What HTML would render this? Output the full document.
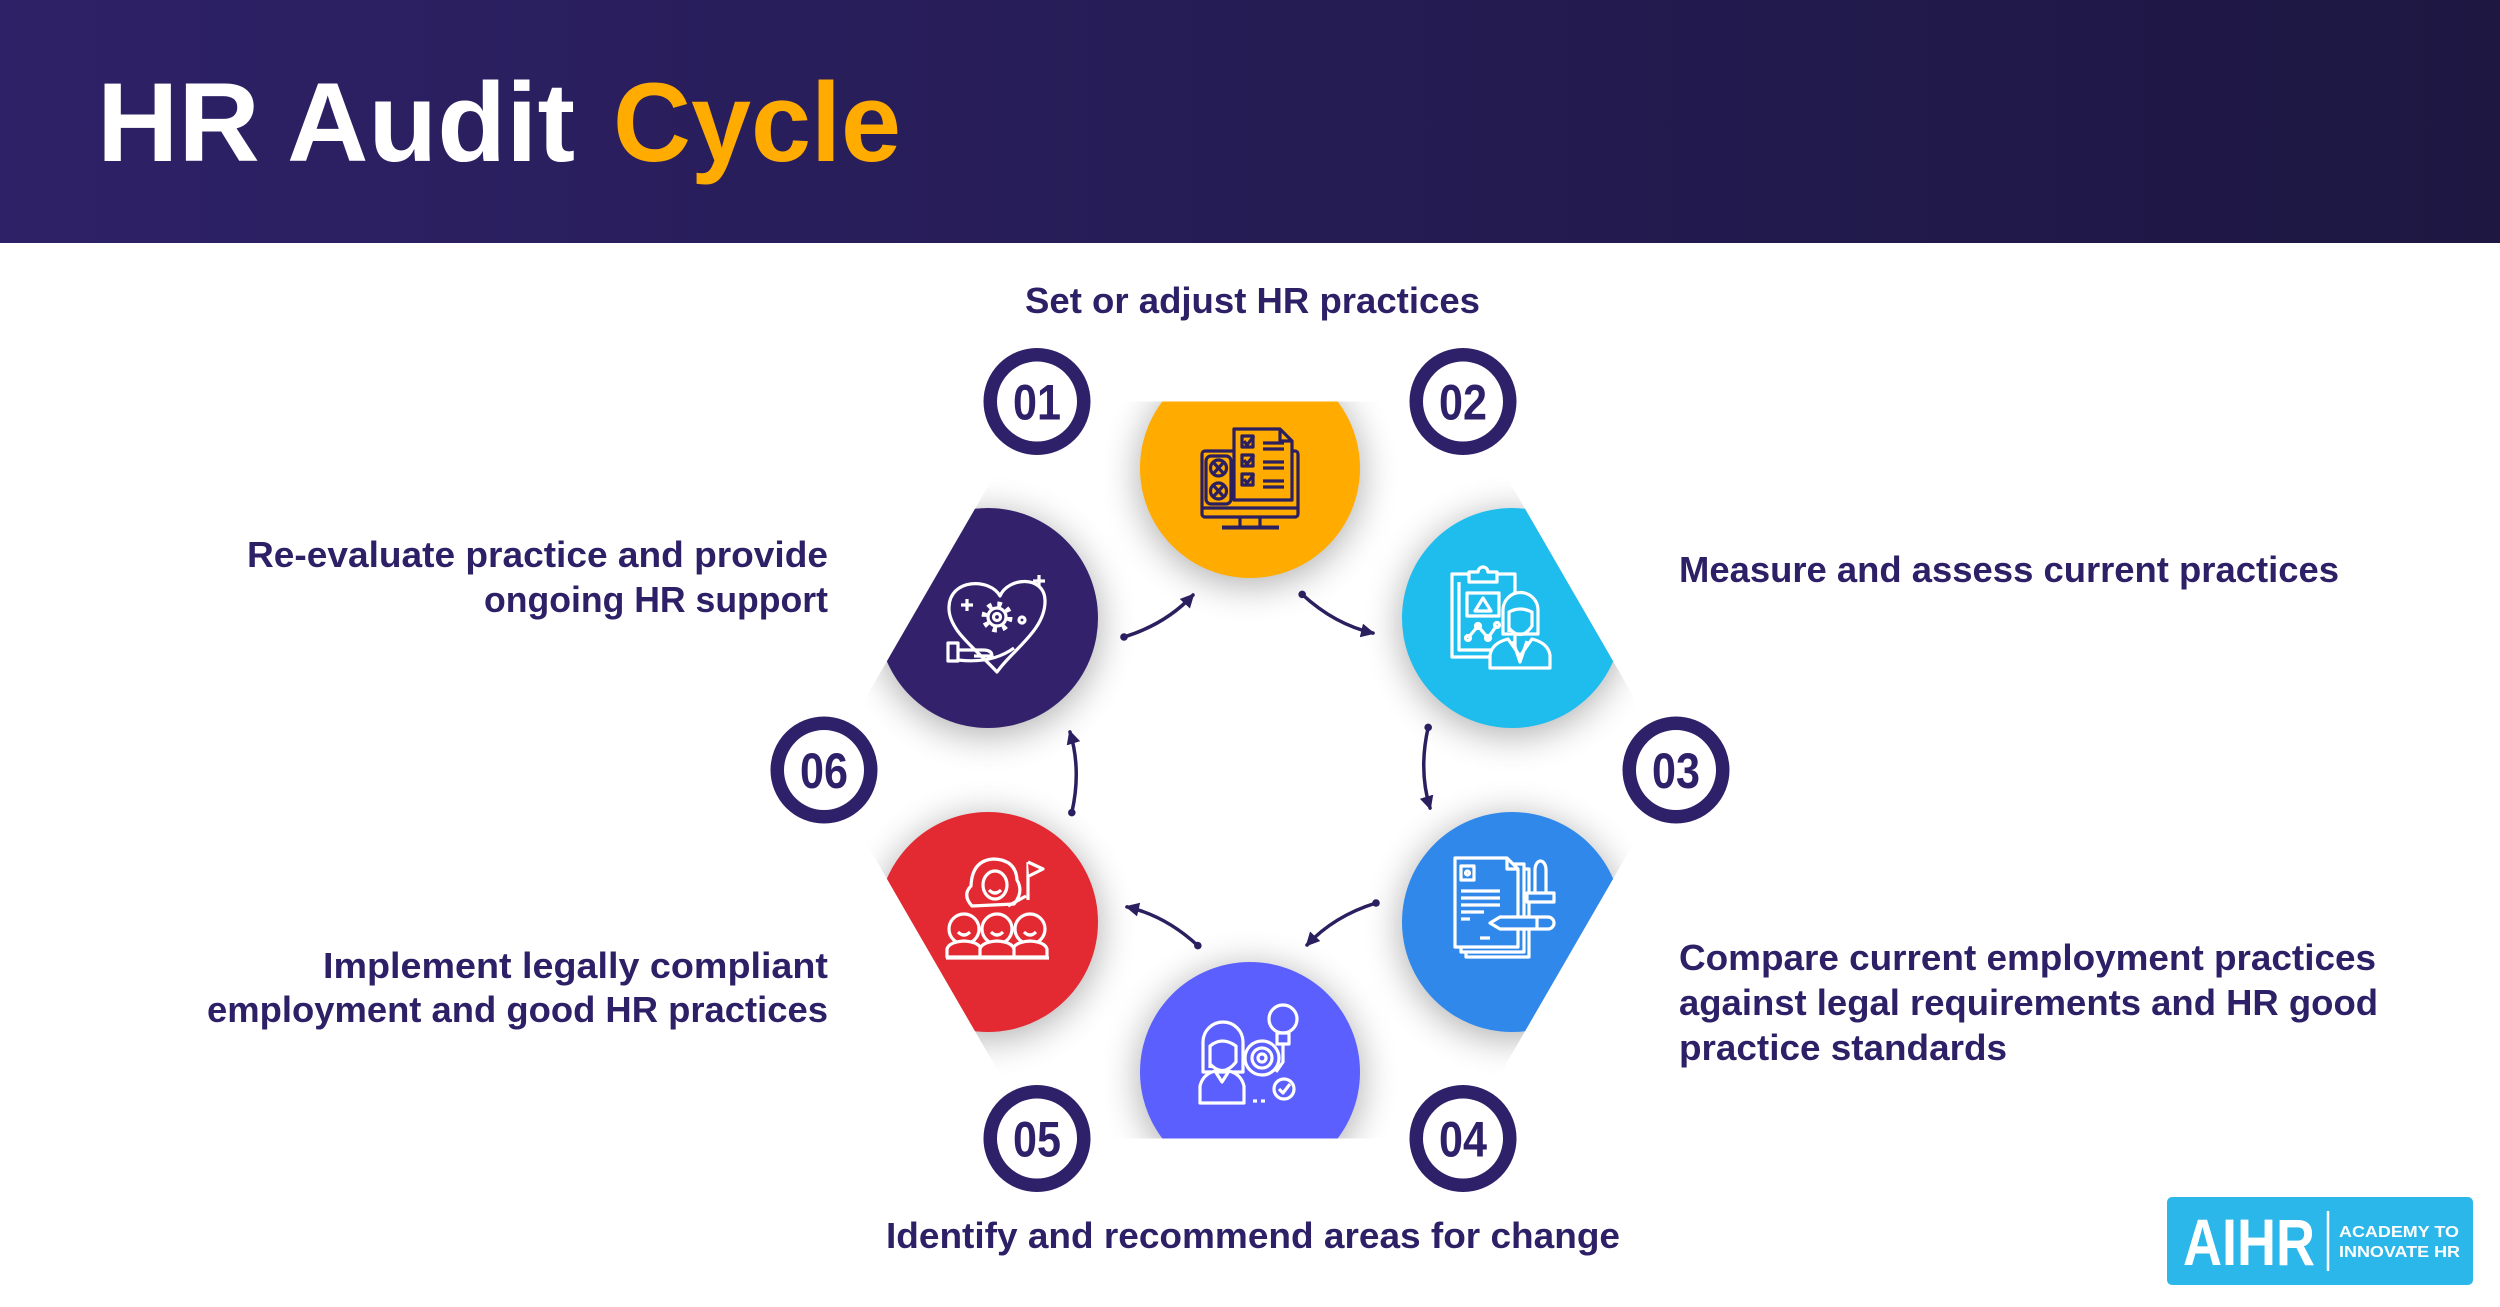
<!DOCTYPE html>
<html><head><meta charset="utf-8"><style>
html,body{margin:0;padding:0;background:#fff;}
svg{display:block;}
text{font-family:"Liberation Sans",Arial,sans-serif;font-weight:bold;}
</style></head><body>
<svg width="2500" height="1307" viewBox="0 0 2500 1307" xmlns="http://www.w3.org/2000/svg">
<defs>
<linearGradient id="hg" x1="0" y1="0" x2="1" y2="0"><stop offset="0" stop-color="#2e2167"/><stop offset="1" stop-color="#1d1742"/></linearGradient>
<clipPath id="hex"><polygon points="1037,401.5 1463,401.5 1676,770 1463,1138.5 1037,1138.5 824,770"/></clipPath>
<filter id="sh" x="-50%" y="-50%" width="200%" height="200%"><feGaussianBlur stdDeviation="18"/></filter>
<marker id="ah" markerUnits="userSpaceOnUse" markerWidth="16" markerHeight="16" refX="12" refY="7" orient="auto"><path d="M0,0 L14,7 L0,14 Z" fill="#2b1f5f"/></marker>
</defs>
<rect width="2500" height="243" fill="url(#hg)"/>
<text x="97" y="161" font-size="112" fill="#fff" textLength="478" lengthAdjust="spacingAndGlyphs">HR Audit</text>
<text x="613" y="161" font-size="112" fill="#ffab00" textLength="288" lengthAdjust="spacingAndGlyphs">Cycle</text>

<g clip-path="url(#hex)">
 <g filter="url(#sh)" fill="#000" opacity="0.3">
  <circle cx="1250" cy="474" r="112"/>
  <circle cx="1512" cy="624" r="112"/>
  <circle cx="1512" cy="928" r="112"/>
  <circle cx="1250" cy="1078" r="112"/>
  <circle cx="988" cy="928" r="112"/>
  <circle cx="988" cy="624" r="112"/>
 </g>
 <circle cx="1250" cy="468" r="110" fill="#ffab00"/>
 <circle cx="1512" cy="618" r="110" fill="#1fbcee"/>
 <circle cx="1512" cy="922" r="110" fill="#3088ea"/>
 <circle cx="1250" cy="1072" r="110" fill="#5b5ffd"/>
 <circle cx="988" cy="922" r="110" fill="#e32a33"/>
 <circle cx="988" cy="618" r="110" fill="#33226b"/>
</g>

<!-- Icon 1 orange -->
<g fill="none" stroke="#2b1f5f" stroke-width="3.2" stroke-linejoin="round">
 <rect x="1202" y="451" width="96" height="66" rx="3"/>
 <line x1="1202" y1="508" x2="1298" y2="508"/>
 <path d="M1240 517 V526 M1260 517 V526"/>
 <line x1="1222" y1="527.5" x2="1279" y2="527.5" stroke-width="4"/>
 <rect x="1206" y="456" width="25" height="48" rx="5"/>
 <circle cx="1218.5" cy="468" r="8"/><circle cx="1218.5" cy="491" r="8"/>
 <path d="M1213 462 L1224 474 M1224 462 L1213 474 M1213 485 L1224 497 M1224 485 L1213 497"/>
 <path d="M1234 500 V429 H1280 L1292 441 V500 Z" fill="#ffab00"/>
 <path d="M1280 429 V441 H1292"/>
 <rect x="1242" y="436" width="11" height="11"/><path d="M1244 441 l3 4 l7 -9"/>
 <path d="M1263 443 H1284 M1263 449 H1284"/>
 <rect x="1242" y="455" width="11" height="11"/><path d="M1244 460 l3 4 l7 -9"/>
 <path d="M1263 462 H1284 M1263 468 H1284"/>
 <rect x="1242" y="474" width="11" height="11"/><path d="M1244 479 l3 4 l7 -9"/>
 <path d="M1263 481 H1284 M1263 487 H1284"/>
</g>

<!-- Icon 2 light blue -->
<g fill="none" stroke="#fff" stroke-width="3.2" stroke-linejoin="round">
 <rect x="1452" y="574" width="63" height="83"/>
 <path d="M1459 582 V650 H1500"/>
 <path d="M1469 582 V572 H1478 A5 5 0 0 1 1488 572 H1497 V582 Z" fill="#1fbcee"/>
 <rect x="1467" y="593" width="32" height="23"/>
 <path d="M1483 598 L1475 611 L1491 611 Z"/>
 <polyline points="1468,638 1478,626 1488,638 1497,625"/>
 <circle cx="1468" cy="638" r="2.5"/><circle cx="1478" cy="626" r="2.5"/><circle cx="1488" cy="638" r="2.5"/><circle cx="1497" cy="625" r="2.5"/>
 <path d="M1490 668 V655 Q1492 643 1508 639 L1520 656 L1532 639 Q1548 643 1550 655 V668 Z" fill="#1fbcee"/>
 <path d="M1503 634 V610 A17.5 17.5 0 0 1 1538 610 V634 Z" fill="#1fbcee"/>
 <path d="M1509 632 V612 Q1520 606 1532 612 V626 Q1521 642 1509 628"/>
 <path d="M1513 641 L1520 662 L1527 641"/>
</g>

<!-- Icon 3 blue -->
<g fill="none" stroke="#fff" stroke-width="3.2" stroke-linejoin="round">
 <rect x="1466" y="869" width="63" height="88" fill="#3088ea"/>
 <rect x="1461" y="864" width="63" height="88" fill="#3088ea"/>
 <path d="M1455 858 H1507 L1518 869 V947 H1455 Z" fill="#3088ea"/>
 <path d="M1507 858 V869 H1518"/>
 <rect x="1461" y="866" width="13" height="14"/><circle cx="1467.5" cy="873" r="2"/>
 <path d="M1461 891 H1500 M1461 898 H1500 M1461 905 H1500 M1461 912 H1484 M1461 919 H1470 M1480 938 H1490"/>
 <path d="M1535 893 V870 A5.5 9 0 0 1 1546 870 V893" fill="#3088ea"/>
 <rect x="1527" y="893" width="27" height="9" fill="#3088ea"/>
 <path d="M1500 917 H1548 A6 6 0 0 1 1548 929 H1500 L1490 923 Z" fill="#3088ea"/>
 <path d="M1537 917 V929"/>
</g>

<!-- Icon 4 violet -->
<g fill="none" stroke="#fff" stroke-width="3.2" stroke-linejoin="round">
 <circle cx="1262" cy="1058" r="17"/><circle cx="1262" cy="1058" r="10"/><circle cx="1262" cy="1058" r="4"/>
 <circle cx="1283" cy="1019" r="14"/>
 <rect x="1277" y="1033" width="12" height="11"/>
 <path d="M1283 1044 V1062 L1276 1072"/>
 <circle cx="1284" cy="1089" r="10"/><path d="M1279 1089 l4 4 l7 -9"/>
 <path d="M1253 1101 h4 M1261 1101 h4"/>
 <path d="M1203 1072 V1042 A20 20 0 0 1 1243 1042 V1072 Z" fill="#5b5ffd"/>
 <path d="M1210 1068 V1046 Q1222 1036 1236 1046 V1062 Q1223 1078 1210 1064"/>
 <path d="M1200 1103 V1086 Q1203 1074 1215 1071 L1222 1082 L1229 1071 Q1241 1074 1244 1086 V1103 Z" fill="#5b5ffd"/>
</g>

<!-- Icon 5 red -->
<g fill="none" stroke="#fff" stroke-width="3.2" stroke-linejoin="round">
 <path d="M972 906 Q962 895 971 886 Q972 860 994 859 Q1016 860 1017 880 Q1024 892 1014 904 Z" fill="#e32a33"/>
 <ellipse cx="995" cy="885" rx="12" ry="14"/>
 <path d="M989 890 Q995 896 1001 890"/>
 <path d="M1028 862 V900"/><path d="M1028 862 L1043 869 L1029 876" fill="#e32a33"/>
 <path d="M1008 906 L1026 896"/>
 <g fill="#e32a33">
  <circle cx="964" cy="929" r="15"/>
  <circle cx="1030" cy="929" r="15"/>
  <circle cx="997" cy="929" r="15"/>
  <path d="M947 957 V949 Q949 942 964 941 Q979 942 981 949 V957 Z"/>
  <path d="M1013 957 V949 Q1015 942 1030 941 Q1045 942 1047 949 V957 Z"/>
  <path d="M980 957 V949 Q982 942 997 941 Q1012 942 1014 949 V957 Z"/>
 </g>
 <path d="M958 932 Q964 938 970 932 M991 932 Q997 938 1003 932 M1024 932 Q1030 938 1036 932"/>
 <path d="M946 958 H1049"/>
</g>

<!-- Icon 6 purple -->
<g fill="none" stroke="#fff" stroke-width="3.2" stroke-linejoin="round">
 <path d="M1000 596 C990 578 950 578 949 607 C948 630 975 648 997 672 C1012 650 1046 630 1045 600 C1044 575 1008 577 1000 596 Z"/>
 <circle cx="997" cy="617" r="13" stroke-width="5" stroke-dasharray="4.5 5.7"/>
 <circle cx="997" cy="617" r="9"/>
 <circle cx="997" cy="617" r="3.5"/>
 <path d="M967 599 V611 M961 605 H973"/>
 <path d="M1039 575 V587 M1033 581 H1045"/>
 <circle cx="1022" cy="620" r="3"/>
 <path d="M958 650 H983 Q992 650 992 656 H974 M958 660 Q992 664 1014 648" fill="none"/>
 <rect x="948" y="643" width="10" height="18" fill="#33226b"/>
</g>

<!-- arrows -->
<g transform="translate(1250,770)" fill="none" stroke="#2b1f5f" stroke-width="3.5" stroke-linecap="round">
 <g><path d="M-126,-133 Q-84,-146 -57,-175" marker-end="url(#ah)"/><circle cx="-126" cy="-133" r="3.8" fill="#2b1f5f" stroke="none"/></g>
 <g transform="rotate(60)"><path d="M-126,-133 Q-84,-146 -57,-175" marker-end="url(#ah)"/><circle cx="-126" cy="-133" r="3.8" fill="#2b1f5f" stroke="none"/></g>
 <g transform="rotate(120)"><path d="M-126,-133 Q-84,-146 -57,-175" marker-end="url(#ah)"/><circle cx="-126" cy="-133" r="3.8" fill="#2b1f5f" stroke="none"/></g>
 <g transform="rotate(180)"><path d="M-126,-133 Q-84,-146 -57,-175" marker-end="url(#ah)"/><circle cx="-126" cy="-133" r="3.8" fill="#2b1f5f" stroke="none"/></g>
 <g transform="rotate(240)"><path d="M-126,-133 Q-84,-146 -57,-175" marker-end="url(#ah)"/><circle cx="-126" cy="-133" r="3.8" fill="#2b1f5f" stroke="none"/></g>
 <g transform="rotate(300)"><path d="M-126,-133 Q-84,-146 -57,-175" marker-end="url(#ah)"/><circle cx="-126" cy="-133" r="3.8" fill="#2b1f5f" stroke="none"/></g>
</g>

<!-- number circles -->
<g fill="#fff" stroke="#2f2169" stroke-width="13.5">
 <circle cx="1037" cy="401.5" r="46.75"/>
 <circle cx="1463" cy="401.5" r="46.75"/>
 <circle cx="1676" cy="770" r="46.75"/>
 <circle cx="1463" cy="1138.5" r="46.75"/>
 <circle cx="1037" cy="1138.5" r="46.75"/>
 <circle cx="824" cy="770" r="46.75"/>
</g>
<g font-size="50" fill="#2f2169" text-anchor="middle">
 <text x="1037" y="419.5" textLength="48" lengthAdjust="spacingAndGlyphs">01</text>
 <text x="1463" y="419.5" textLength="48" lengthAdjust="spacingAndGlyphs">02</text>
 <text x="1676" y="788" textLength="48" lengthAdjust="spacingAndGlyphs">03</text>
 <text x="1463" y="1156.5" textLength="48" lengthAdjust="spacingAndGlyphs">04</text>
 <text x="1037" y="1156.5" textLength="48" lengthAdjust="spacingAndGlyphs">05</text>
 <text x="824" y="788" textLength="48" lengthAdjust="spacingAndGlyphs">06</text>
</g>

<!-- labels -->
<g font-size="36" fill="#2d2066">
 <text x="1025" y="313" textLength="455" lengthAdjust="spacingAndGlyphs">Set or adjust HR practices</text>
 <text x="1679" y="582" textLength="660" lengthAdjust="spacingAndGlyphs">Measure and assess current practices</text>
 <text x="1679" y="970" textLength="697" lengthAdjust="spacingAndGlyphs">Compare current employment practices</text>
 <text x="1679" y="1015" textLength="699" lengthAdjust="spacingAndGlyphs">against legal requirements and HR good</text>
 <text x="1679" y="1060" textLength="328" lengthAdjust="spacingAndGlyphs">practice standards</text>
 <text x="886" y="1248" textLength="734" lengthAdjust="spacingAndGlyphs">Identify and recommend areas for change</text>
 <text x="247" y="567" textLength="581" lengthAdjust="spacingAndGlyphs">Re-evaluate practice and provide</text>
 <text x="484" y="612" textLength="344" lengthAdjust="spacingAndGlyphs">ongoing HR support</text>
 <text x="323" y="978" textLength="505" lengthAdjust="spacingAndGlyphs">Implement legally compliant</text>
 <text x="207" y="1022" textLength="621" lengthAdjust="spacingAndGlyphs">employment and good HR practices</text>
</g>

<!-- logo -->
<rect x="2167" y="1197" width="306" height="88" rx="5" fill="#2bb7e9"/>
<text x="2183" y="1265" font-size="66" fill="#fff" textLength="132" lengthAdjust="spacingAndGlyphs">AIHR</text>
<line x1="2328" y1="1211" x2="2328" y2="1271" stroke="#fff" stroke-width="2.5"/>
<text x="2339" y="1237" font-size="15.5" fill="#fff" textLength="120" lengthAdjust="spacingAndGlyphs">ACADEMY TO</text>
<text x="2339" y="1257" font-size="15.5" fill="#fff" textLength="121" lengthAdjust="spacingAndGlyphs">INNOVATE HR</text>
</svg>
</body></html>
